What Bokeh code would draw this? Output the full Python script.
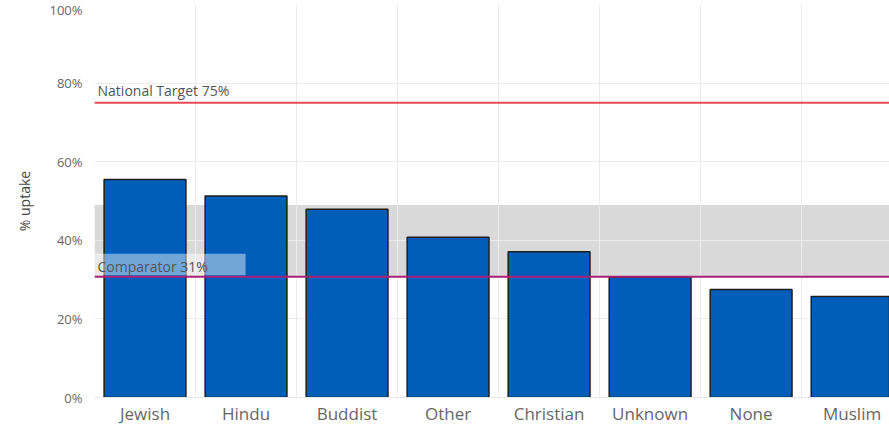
from bokeh.plotting import figure
from bokeh.models import (FixedTicker, PrintfTickFormatter, BoxAnnotation, Span, Label, Range1d)
from bokeh.embed import file_html
from bokeh.resources import INLINE

# ---- data ----
categories = ["Jewish", "Hindu", "Buddist", "Other", "Christian", "Unknown", "None", "Muslim"]
uptake = [55.5, 51.3, 47.9, 40.8, 37.1, 30.6, 27.5, 25.7]
national_target = 75
comparator = 30.7
comparator_band = [30.7, 49.0]
y_ticks = [0, 20, 40, 60, 80, 100]

FONT = "Open Sans"
TXT = "#666666"

xs = [i + 0.5 for i in range(len(categories))]

p = figure(width=889, height=427, output_backend="svg", toolbar_location=None,
           x_range=Range1d(0, 7.87), y_range=Range1d(0, 100),
           min_border_left=94, min_border_right=0, min_border_top=4, min_border_bottom=0)
p.outline_line_color = None
p.background_fill_color = "white"

# grey comparator band (below grid)
band = BoxAnnotation(bottom=comparator_band[0], top=comparator_band[1],
                     fill_color="#d9d9d9", fill_alpha=1.0, line_color=None, level="image")
p.add_layout(band)

# grids
p.xgrid.ticker = FixedTicker(ticks=list(range(0, len(categories) + 1)))
p.xgrid.grid_line_color = "#ebebeb"
p.xgrid.grid_line_width = 1
p.ygrid.ticker = FixedTicker(ticks=y_ticks)
p.ygrid.grid_line_color = "#ebebeb"
p.ygrid.grid_line_width = 1

# bars
p.vbar(x=xs, top=uptake, width=0.81, bottom=0, fill_color="#005eb8",
       line_color="#1e1e1e", line_width=1.5)

# reference lines
p.add_layout(Span(location=national_target, dimension="width", line_color="#e64a56", line_width=2))
p.add_layout(Span(location=comparator, dimension="width", line_color="#a8207a", line_width=2))

# comparator label box
p.add_layout(BoxAnnotation(left=0, right=1.495, bottom=31.1, top=36.6,
                           fill_color="white", fill_alpha=0.45, line_color=None, level="annotation"))
p.add_layout(Label(x=0.03, y=31.0, text="Comparator 31%", text_font=FONT,
                   text_font_size="14px", text_color="#555555"))
p.add_layout(Label(x=0.03, y=75.6, text="National Target 75%", text_font=FONT,
                   text_font_size="14px", text_color="#555555"))

# axes
p.yaxis.ticker = FixedTicker(ticks=y_ticks)
p.yaxis.formatter = PrintfTickFormatter(format="%d%%")
p.yaxis.axis_line_color = None
p.yaxis.major_tick_line_color = None
p.yaxis.minor_tick_line_color = None
p.yaxis.major_tick_out = 0
p.yaxis.major_tick_in = 0
p.yaxis.major_label_text_font = FONT
p.yaxis.major_label_text_font_size = "13px"
p.yaxis.major_label_text_color = TXT
p.yaxis.major_label_standoff = 12
p.yaxis.axis_label = "% uptake"
p.yaxis.axis_label_text_font = FONT
p.yaxis.axis_label_text_font_size = "14px"
p.yaxis.axis_label_text_font_style = "normal"
p.yaxis.axis_label_text_color = "#444444"
p.yaxis.axis_label_standoff = 12

p.xaxis.ticker = FixedTicker(ticks=xs)
p.xaxis.major_label_overrides = {x: c for x, c in zip(xs, categories)}
p.xaxis.axis_line_color = "#e6e6e6"
p.xaxis.major_tick_line_color = None
p.xaxis.minor_tick_line_color = None
p.xaxis.major_tick_out = 0
p.xaxis.major_tick_in = 0
p.xaxis.major_label_text_font = FONT
p.xaxis.major_label_text_font_size = "17px"
p.xaxis.major_label_text_color = TXT
p.xaxis.major_label_standoff = 4

open("out.html", "w").write(file_html(p, INLINE))
